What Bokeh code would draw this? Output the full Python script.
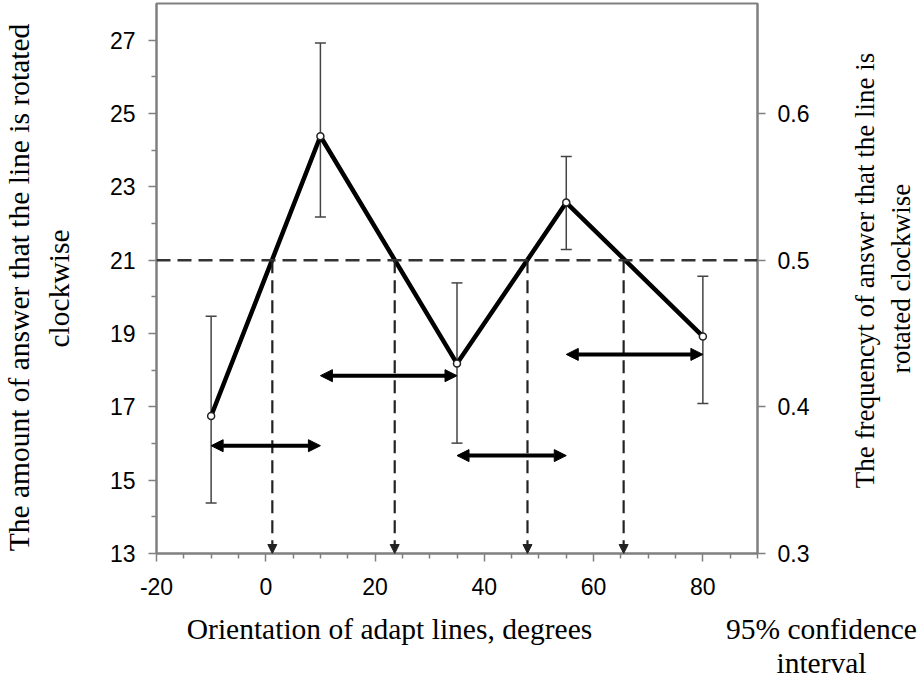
import math
from bokeh.plotting import figure
from bokeh.layouts import row, column
from bokeh.models import (Range1d, LinearAxis, FixedTicker, Span, Whisker, TeeHead,
                          Arrow, NormalHead, ColumnDataSource, Label, NumeralTickFormatter)
from bokeh.embed import file_html
from bokeh.resources import INLINE

# ---------------- data ----------------
orientation = [-10, 10, 35, 55, 80]
amount = [16.75, 24.38, 18.18, 22.57, 18.92]
ci_low = [14.38, 22.18, 16.01, 21.29, 17.09]
ci_high = [19.47, 26.92, 20.38, 23.83, 20.56]
chance_level = 21
cross_x = [1.2, 23.6, 47.9, 65.5]
span_start = [-10, 10, 35, 55]
span_end = [10, 35, 55, 80]
span_level = [15.94, 17.85, 15.67, 18.43]
x_ticks = [-20, 0, 20, 40, 60, 80]
x_minor = [-15, -10, -5, 5, 10, 15, 25, 30, 35, 45, 50, 55, 65, 70, 75, 85, 90]
y_ticks = [13, 15, 17, 19, 21, 23, 25, 27]
y_minor = [14, 16, 18, 20, 22, 24, 26]
freq_ticks = [0.3, 0.4, 0.5, 0.6]

X0, X1 = -20, 90
Y0, Y1 = 13, 28
F0, F1 = 0.3, 0.675

GRAY = "#808080"
SANS = "Liberation Sans"
SERIF = "Liberation Serif"

W, H = 918, 677
LEFT_W = 100          # column holding the left title
RIGHT_W = 100         # column holding the right title
MAIN_H = 610          # height of the row with the chart
FL, FR, FT, FB = 156, 757, 3, 553   # frame edges in page pixels
MAIN_W = W - LEFT_W - RIGHT_W


def text_panel(w, h, top=0, bottom=0):
    # ranges map page pixels (relative to the panel's left/top) onto the frame
    f = figure(width=w, height=h, x_range=Range1d(0, w), y_range=Range1d(h - bottom, top),
               output_backend="svg", toolbar_location=None,
               min_border_left=0, min_border_right=0,
               min_border_top=top, min_border_bottom=bottom,
               x_axis_location=None, y_axis_location=None)
    f.grid.visible = False
    f.outline_line_color = None
    f.background_fill_color = "white"
    f.border_fill_color = "white"
    return f


def add_text(f, txt, x, y, size="29.5px", vertical=False):
    f.add_layout(Label(x=x, y=y, text=txt, text_font=SERIF,
                       text_font_size=size, text_color="black",
                       text_align="center", text_baseline="middle",
                       angle=math.pi / 2 if vertical else 0))


# ---------------- main chart ----------------
p = figure(width=MAIN_W, height=MAIN_H, x_range=Range1d(X0, X1), y_range=Range1d(Y0, Y1),
           output_backend="svg", toolbar_location=None,
           min_border_left=FL - LEFT_W, min_border_right=LEFT_W + MAIN_W - FR,
           min_border_top=FT, min_border_bottom=MAIN_H - FB,
           x_axis_location=None, y_axis_location=None)
p.grid.visible = False
p.background_fill_color = "white"
p.border_fill_color = "white"
p.outline_line_color = GRAY
p.outline_line_width = 2
p.extra_y_ranges = {"freq": Range1d(F0, F1)}


def style_axis(ax):
    ax.axis_line_color = GRAY
    ax.axis_line_width = 2
    ax.major_tick_line_color = GRAY
    ax.minor_tick_line_color = GRAY
    ax.major_tick_line_width = 1.5
    ax.minor_tick_line_width = 1.5
    ax.major_tick_in = 0
    ax.major_tick_out = 8
    ax.minor_tick_in = 0
    ax.minor_tick_out = 5
    ax.major_label_text_font = SANS
    ax.major_label_text_font_size = "23px"
    ax.major_label_text_color = "#000000"


xa = LinearAxis(ticker=FixedTicker(ticks=x_ticks, minor_ticks=x_minor),
                formatter=NumeralTickFormatter(format="0"))
style_axis(xa)
xa.major_label_standoff = 16
p.add_layout(xa, "below")

ya = LinearAxis(ticker=FixedTicker(ticks=y_ticks, minor_ticks=y_minor),
                formatter=NumeralTickFormatter(format="0"))
style_axis(ya)
ya.major_label_standoff = 13
p.add_layout(ya, "left")

ra = LinearAxis(y_range_name="freq", ticker=FixedTicker(ticks=freq_ticks, minor_ticks=[]),
                formatter=NumeralTickFormatter(format="0.0"))
style_axis(ra)
ra.major_label_standoff = 12
p.add_layout(ra, "right")

# chance level dashed line
p.add_layout(Span(location=chance_level, dimension="width", line_color="#333333",
                  line_width=2.5, line_dash="14 7"))

# vertical dashed arrows down from crossings
vsrc = ColumnDataSource(dict(x0=cross_x, y0=[chance_level] * len(cross_x),
                             x1=cross_x, y1=[Y0] * len(cross_x)))
p.add_layout(Arrow(source=vsrc, x_start="x0", y_start="y0", x_end="x1", y_end="y1",
                   line_color="#222222", line_width=2.2, line_dash="13 7",
                   end=NormalHead(size=9, fill_color="#222222", line_color="#222222",
                                  line_width=1)))

# error bars
esrc = ColumnDataSource(dict(x=orientation, lo=ci_low, hi=ci_high))
p.add_layout(Whisker(source=esrc, base="x", lower="lo", upper="hi", dimension="height",
                     line_color="#444444", line_width=1.5,
                     lower_head=TeeHead(size=11, line_color="#444444", line_width=1.5),
                     upper_head=TeeHead(size=11, line_color="#444444", line_width=1.5)))

# main line and points
p.line(orientation, amount, line_color="black", line_width=4.5)
p.scatter(orientation, amount, marker="circle", size=7, fill_color="white",
          line_color="#222222", line_width=1.5)

# double arrows (95% confidence intervals)
asrc = ColumnDataSource(dict(x0=span_start, x1=span_end, y=span_level))
p.add_layout(Arrow(source=asrc, x_start="x0", y_start="y", x_end="x1", y_end="y",
                   line_color="black", line_width=4,
                   start=NormalHead(size=12, fill_color="black", line_color="black", line_width=1),
                   end=NormalHead(size=12, fill_color="black", line_color="black", line_width=1)))

# ---------------- title panels ----------------
left = text_panel(LEFT_W, MAIN_H, top=FT, bottom=MAIN_H - FB)
add_text(left, "The amount of answer that the line is rotated", 18, 287, vertical=True)
add_text(left, "clockwise", 58, 288, vertical=True)

right = text_panel(RIGHT_W, MAIN_H, top=FT, bottom=MAIN_H - FB)
rx0 = LEFT_W + MAIN_W
add_text(right, "The frequencyt of answer that the line is", 864 - rx0, 270, size="27px", vertical=True)
add_text(right, "rotated clockwise", 900 - rx0, 278, size="27px", vertical=True)

bottom = text_panel(W, H - MAIN_H)
add_text(bottom, "Orientation of adapt lines, degrees", 389, 628 - MAIN_H)
add_text(bottom, "95% confidence", 821, 628 - MAIN_H)
add_text(bottom, "interval", 821, 662 - MAIN_H)

layout = column(row(left, p, right, spacing=0), bottom, spacing=0)
open("out.html", "w").write(file_html(layout, INLINE))
